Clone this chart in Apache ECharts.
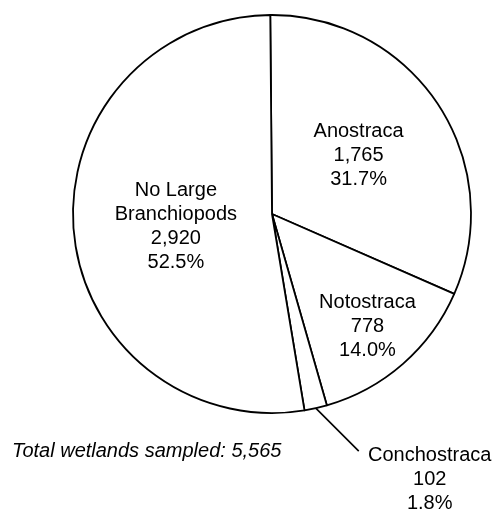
<!DOCTYPE html>
<html>
<head>
<meta charset="utf-8">
<script src="https://cdn.jsdelivr.net/npm/echarts@6/dist/echarts.min.js"></script>
<style>
html,body{margin:0;padding:0;background:#fff;}
#chart{width:492px;height:510px;}
</style>
</head>
<body>
<div id="chart"></div>
<script>
const categories = ['Anostraca', 'Notostraca', 'Conchostraca', 'No Large\nBranchiopods'];
const counts = [1765, 778, 102, 2920];
const totalLabel = 'Total wetlands sampled: ';

const total = counts.reduce((a, b) => a + b, 0);
const fmt = v => v.toLocaleString('en-US');
const FONT = '"Liberation Sans", Arial, sans-serif';

const chart = echarts.init(document.getElementById('chart'), null, {renderer: 'canvas'});

const data = categories.map((name, i) => {
  const item = {name: name, value: counts[i]};
  if (name === 'Conchostraca') {
    item.label = {position: 'outside', align: 'center'};
    item.labelLine = {show: true, length: 10, length2: 0, lineStyle: {color: '#000', width: 1.6}};
  }
  return item;
});

chart.setOption({
  backgroundColor: '#fff',
  animation: false,
  series: [{
    type: 'pie',
    center: [272, 214],
    radius: 199,
    startAngle: 90.5,
    clockwise: true,
    avoidLabelOverlap: false,
    itemStyle: {color: '#fff', borderColor: '#000', borderWidth: 1.8},
    emphasis: {disabled: true},
    label: {
      show: true,
      position: 'inside',
      color: '#000',
      fontFamily: FONT,
      fontSize: 20,
      lineHeight: 24,
      align: 'center',
      formatter: p => p.name + '\n' + fmt(p.value) + '\n' + (p.value / total * 100).toFixed(1) + '%'
    },
    labelLine: {show: false},
    labelLayout: function (params) {
      if (params.dataIndex === 0) {
        return {dx: 1, dy: -2};
      }
      if (params.dataIndex === 1) {
        return {dx: 28, dy: 35};
      }
      if (params.dataIndex === 3) {
        return {dx: 6, dy: 4};
      }
      if (params.dataIndex === 2 && params.labelLinePoints) {
        const p0 = params.labelLinePoints[0];
        return {
          x: p0[0] + 114,
          y: p0[1] + 35,
          align: 'center',
          verticalAlign: 'top',
          labelLinePoints: [p0, [p0[0] + 43, p0[1] + 43]]
        };
      }
    },
    data: data
  }],
  graphic: [{
    type: 'text',
    left: 12,
    top: 441,
    style: {
      text: totalLabel + fmt(total),
      font: 'italic 20px ' + FONT,
      fill: '#000'
    }
  }]
});
</script>
</body>
</html>
